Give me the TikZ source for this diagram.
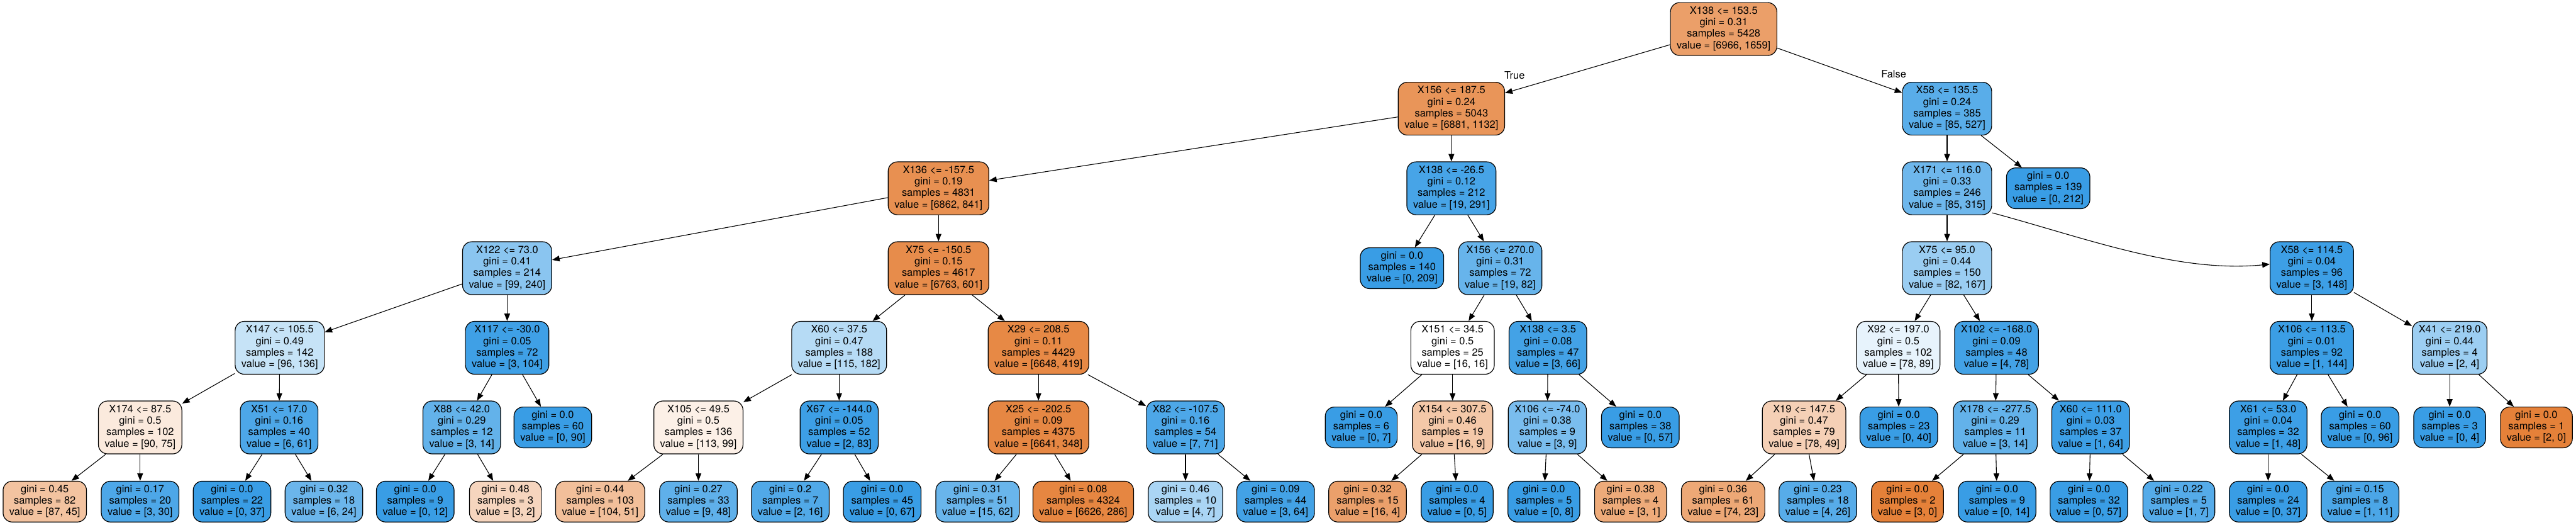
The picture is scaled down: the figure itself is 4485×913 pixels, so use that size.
\documentclass[tikz,border=0pt]{standalone}
\usepackage{fontspec}
\setmainfont{TeX Gyre Heros}
\usetikzlibrary{arrows.meta}
\definecolor{cor}{RGB}{229,129,57}
\definecolor{cbl}{RGB}{57,157,229}
\newcommand\tsplit[4]{\strut #1\\\strut gini = #2\\\strut samples = #3\\\strut value = [#4]}
\newcommand\tleaf[3]{\strut gini = #1\\\strut samples = #2\\\strut value = [#3]}
\begin{document}
\begin{tikzpicture}[x=1pt,y=-1pt,
  font=\fontsize{18}{20}\selectfont,
  tn/.style={draw=black, line width=1.3pt, rounded corners=16pt, align=center,
    inner xsep=11pt, inner ysep=5pt, minimum height=92pt},
  lf/.style={tn, minimum height=71pt},
  arr/.style={line width=1.2pt, -{Triangle[length=13pt,width=10pt]}}]
\useasboundingbox (0,0) rectangle (4485,913);
% level 0
\node[tn, fill=cor!76!white] (root) at (3001,50.5) {\tsplit{X138 <= 153.5}{0.31}{5428}{6966, 1659}};
% level 1
\node[tn, fill=cor!84!white] (n1) at (2527,189) {\tsplit{X156 <= 187.5}{0.24}{5043}{6881, 1132}};
\node[tn, fill=cbl!84!white] (n2) at (3390,189) {\tsplit{X58 <= 135.5}{0.24}{385}{85, 527}};
% level 2
\node[tn, fill=cor!88!white] (n3) at (1634,327.5) {\tsplit{X136 <= -157.5}{0.19}{4831}{6862, 841}};
\node[tn, fill=cbl!93!white] (n4) at (2527,327.5) {\tsplit{X138 <= -26.5}{0.12}{212}{19, 291}};
\node[tn, fill=cbl!73!white] (n5) at (3390,327.5) {\tsplit{X171 <= 116.0}{0.33}{246}{85, 315}};
\node[lf, fill=cbl] (n6) at (3566,327.5) {\tleaf{0.0}{139}{0, 212}};
% level 3
\node[tn, fill=cbl!59!white] (n7) at (883,466.5) {\tsplit{X122 <= 73.0}{0.41}{214}{99, 240}};
\node[tn, fill=cor!91!white] (n8) at (1634,466.5) {\tsplit{X75 <= -150.5}{0.15}{4617}{6763, 601}};
\node[lf, fill=cbl] (n9) at (2441,466.5) {\tleaf{0.0}{140}{0, 209}};
\node[tn, fill=cbl!77!white] (n10) at (2612,466.5) {\tsplit{X156 <= 270.0}{0.31}{72}{19, 82}};
\node[tn, fill=cbl!51!white] (n11) at (3390,466.5) {\tsplit{X75 <= 95.0}{0.44}{150}{82, 167}};
\node[tn, fill=cbl!98!white] (n12) at (4025,466.5) {\tsplit{X58 <= 114.5}{0.04}{96}{3, 148}};
% level 4
\node[tn, fill=cbl!29!white] (n13) at (487,605) {\tsplit{X147 <= 105.5}{0.49}{142}{96, 136}};
\node[tn, fill=cbl!97!white] (n14) at (883,605) {\tsplit{X117 <= -30.0}{0.05}{72}{3, 104}};
\node[tn, fill=cbl!37!white] (n15) at (1461,605) {\tsplit{X60 <= 37.5}{0.47}{188}{115, 182}};
\node[tn, fill=cor!94!white] (n16) at (1808,605) {\tsplit{X29 <= 208.5}{0.11}{4429}{6648, 419}};
\node[tn, fill=white] (n17) at (2529,605) {\tsplit{X151 <= 34.5}{0.5}{25}{16, 16}};
\node[tn, fill=cbl!95!white] (n18) at (2695,605) {\tsplit{X138 <= 3.5}{0.08}{47}{3, 66}};
\node[tn, fill=cbl!12!white] (n19) at (3305,605) {\tsplit{X92 <= 197.0}{0.5}{102}{78, 89}};
\node[tn, fill=cbl!95!white] (n20) at (3476,605) {\tsplit{X102 <= -168.0}{0.09}{48}{4, 78}};
\node[tn, fill=cbl!99!white] (n21) at (4025,605) {\tsplit{X106 <= 113.5}{0.01}{92}{1, 144}};
\node[tn, fill=cbl!50!white] (n22) at (4265,605) {\tsplit{X41 <= 219.0}{0.44}{4}{2, 4}};
% level 5
\node[tn, fill=cor!17!white] (n23) at (244,743.5) {\tsplit{X174 <= 87.5}{0.5}{102}{90, 75}};
\node[tn, fill=cbl!90!white] (n24) at (486,743.5) {\tsplit{X51 <= 17.0}{0.16}{40}{6, 61}};
\node[tn, fill=cbl!79!white] (n25) at (804,743.5) {\tsplit{X88 <= 42.0}{0.29}{12}{3, 14}};
\node[lf, fill=cbl] (n26) at (962.5,743.5) {\tleaf{0.0}{60}{0, 90}};
\node[tn, fill=cor!12!white] (n27) at (1216,743.5) {\tsplit{X105 <= 49.5}{0.5}{136}{113, 99}};
\node[tn, fill=cbl!98!white] (n28) at (1461,743.5) {\tsplit{X67 <= -144.0}{0.05}{52}{2, 83}};
\node[tn, fill=cor!95!white] (n29) at (1808,743.5) {\tsplit{X25 <= -202.5}{0.09}{4375}{6641, 348}};
\node[tn, fill=cbl!90!white] (n30) at (2064,743.5) {\tsplit{X82 <= -107.5}{0.16}{54}{7, 71}};
\node[lf, fill=cbl] (n31) at (2370,743.5) {\tleaf{0.0}{6}{0, 7}};
\node[tn, fill=cor!44!white] (n32) at (2529,743.5) {\tsplit{X154 <= 307.5}{0.46}{19}{16, 9}};
\node[tn, fill=cbl!67!white] (n33) at (2694,743.5) {\tsplit{X106 <= -74.0}{0.38}{9}{3, 9}};
\node[lf, fill=cbl] (n34) at (2856,743.5) {\tleaf{0.0}{38}{0, 57}};
\node[tn, fill=cor!37!white] (n35) at (3141,743.5) {\tsplit{X19 <= 147.5}{0.47}{79}{78, 49}};
\node[lf, fill=cbl] (n36) at (3306,743.5) {\tleaf{0.0}{23}{0, 40}};
\node[tn, fill=cbl!79!white] (n37) at (3474,743.5) {\tsplit{X178 <= -277.5}{0.29}{11}{3, 14}};
\node[tn, fill=cbl!98!white] (n38) at (3640,743.5) {\tsplit{X60 <= 111.0}{0.03}{37}{1, 64}};
\node[tn, fill=cbl!98!white] (n39) at (3949,743.5) {\tsplit{X61 <= 53.0}{0.04}{32}{1, 48}};
\node[lf, fill=cbl] (n40) at (4109,743.5) {\tleaf{0.0}{60}{0, 96}};
\node[lf, fill=cbl] (n41) at (4265,743.5) {\tleaf{0.0}{3}{0, 4}};
\node[lf, fill=cor] (n42) at (4416,743.5) {\tleaf{0.0}{1}{2, 0}};
% level 6
\node[lf, fill=cor!48!white] (n43) at (78,872.5) {\tleaf{0.45}{82}{87, 45}};
\node[lf, fill=cbl!90!white] (n44) at (244,872.5) {\tleaf{0.17}{20}{3, 30}};
\node[lf, fill=cbl] (n45) at (404,872.5) {\tleaf{0.0}{22}{0, 37}};
\node[lf, fill=cbl!75!white] (n46) at (564,872.5) {\tleaf{0.32}{18}{6, 24}};
\node[lf, fill=cbl] (n47) at (723,872.5) {\tleaf{0.0}{9}{0, 12}};
\node[lf, fill=cor!33!white] (n48) at (880,872.5) {\tleaf{0.48}{3}{3, 2}};
\node[lf, fill=cor!51!white] (n49) at (1045,872.5) {\tleaf{0.44}{103}{104, 51}};
\node[lf, fill=cbl!81!white] (n50) at (1216,872.5) {\tleaf{0.27}{33}{9, 48}};
\node[lf, fill=cbl!88!white] (n51) at (1376,872.5) {\tleaf{0.2}{7}{2, 16}};
\node[lf, fill=cbl] (n52) at (1536,872.5) {\tleaf{0.0}{45}{0, 67}};
\node[lf, fill=cbl!76!white] (n53) at (1702,872.5) {\tleaf{0.31}{51}{15, 62}};
\node[lf, fill=cor!96!white] (n54) at (1886,872.5) {\tleaf{0.08}{4324}{6626, 286}};
\node[lf, fill=cbl!43!white] (n55) at (2064,872.5) {\tleaf{0.46}{10}{4, 7}};
\node[lf, fill=cbl!95!white] (n56) at (2221,872.5) {\tleaf{0.09}{44}{3, 64}};
\node[lf, fill=cor!75!white] (n57) at (2381,872.5) {\tleaf{0.32}{15}{16, 4}};
\node[lf, fill=cbl] (n58) at (2537,872.5) {\tleaf{0.0}{4}{0, 5}};
\node[lf, fill=cbl] (n59) at (2688,872.5) {\tleaf{0.0}{5}{0, 8}};
\node[lf, fill=cor!67!white] (n60) at (2839,872.5) {\tleaf{0.38}{4}{3, 1}};
\node[lf, fill=cor!69!white] (n61) at (3000,872.5) {\tleaf{0.36}{61}{74, 23}};
\node[lf, fill=cbl!85!white] (n62) at (3165,872.5) {\tleaf{0.23}{18}{4, 26}};
\node[lf, fill=cor] (n63) at (3321,872.5) {\tleaf{0.0}{2}{3, 0}};
\node[lf, fill=cbl] (n64) at (3477,872.5) {\tleaf{0.0}{9}{0, 14}};
\node[lf, fill=cbl] (n65) at (3637,872.5) {\tleaf{0.0}{32}{0, 57}};
\node[lf, fill=cbl!86!white] (n66) at (3793.5,872.5) {\tleaf{0.22}{5}{1, 7}};
\node[lf, fill=cbl] (n67) at (3949,872.5) {\tleaf{0.0}{24}{0, 37}};
\node[lf, fill=cbl!91!white] (n68) at (4109,872.5) {\tleaf{0.15}{8}{1, 11}};
% edges
\foreach \a/\b in {root/n1, root/n2, n1/n3, n1/n4, n2/n5, n2/n6,
  n3/n7, n3/n8, n4/n9, n4/n10, n5/n11,
  n7/n13, n7/n14, n8/n15, n8/n16, n10/n17, n10/n18, n11/n19, n11/n20, n12/n21, n12/n22,
  n13/n23, n13/n24, n14/n25, n14/n26, n15/n27, n15/n28, n16/n29, n16/n30,
  n17/n31, n17/n32, n18/n33, n18/n34, n19/n35, n19/n36, n20/n37, n20/n38,
  n21/n39, n21/n40, n22/n41, n22/n42,
  n23/n43, n23/n44, n24/n45, n24/n46, n25/n47, n25/n48, n27/n49, n27/n50,
  n28/n51, n28/n52, n29/n53, n29/n54, n30/n55, n30/n56, n32/n57, n32/n58,
  n33/n59, n33/n60, n35/n61, n35/n62, n37/n63, n37/n64, n38/n65, n38/n66,
  n39/n67, n39/n68}
  \draw[arr] (\a) -- (\b);
\draw[arr] ([yshift=4pt]n5.south east) .. controls +(160,43) and +(-160,16) .. ([yshift=7pt]n12.west);
% edge labels
\node[anchor=base, inner sep=0pt] (ltrue) at (2637,137) {True};
\node[anchor=base, inner sep=0pt] (lfalse) at (3297,135) {False};
\end{tikzpicture}
\end{document}
